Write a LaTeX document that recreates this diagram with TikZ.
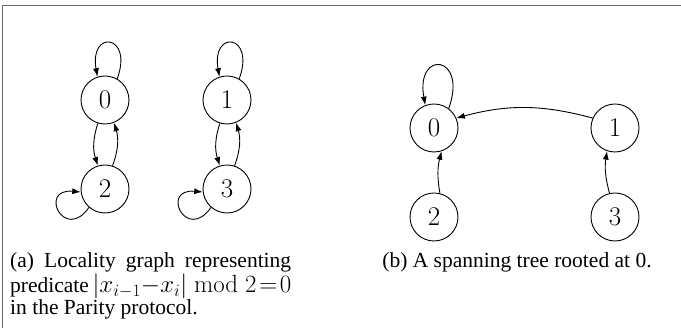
\documentclass[tikz,border=0pt]{standalone}
\usepackage[no-math]{fontspec}
\newfontfamily\capfont{Liberation Serif}
\usetikzlibrary{arrows.meta}
\definecolor{framecol}{RGB}{105,105,105}
\tikzset{
  vert/.style={circle, draw, line width=0.9pt, minimum size=48pt, inner sep=0pt,
    font=\fontsize{27}{30}\selectfont},
  arr/.style={line width=0.9pt, -{Latex[length=8.5pt,width=6pt]}},
  captext/.style={inner sep=0pt, font=\capfont\fontsize{21.5}{18.5}\selectfont}
}
\begin{document}
\begin{tikzpicture}[x=1pt,y=1pt]
\useasboundingbox (0,0) rectangle (681,328);
\draw[framecol, line width=1.6pt] (2.5,0) -- (2.5,322.5) -- (681,322.5);

% (a)
\node[vert] (a0) at (105,228) {0};
\node[vert] (a2) at (105,139) {2};
\node[vert] (a1) at (227,228) {1};
\node[vert] (a3) at (227,139) {3};

\draw[arr] (a0.60) .. controls +(70:48) and +(100:48) .. (a0.108);
\draw[arr] (a1.60) .. controls +(70:48) and +(100:48) .. (a1.108);
\draw[arr] (a2.229) .. controls +(235:43) and +(175:43) .. (a2.187);
\draw[arr] (a3.229) .. controls +(235:43) and +(175:43) .. (a3.187);

\draw[arr] (a0.-107) to[bend right=18] (a2.107);
\draw[arr] (a2.72) to[bend right=18] (a0.-68);
\draw[arr] (a1.-107) to[bend right=18] (a3.107);
\draw[arr] (a3.72) to[bend right=18] (a1.-68);

% (b)
\node[vert] (b0) at (434,200) {0};
\node[vert] (b1) at (615,200) {1};
\node[vert] (b2) at (434,111) {2};
\node[vert] (b3) at (615,111) {3};

\draw[arr] (b0.53) .. controls +(70:57) and +(100:57) .. (b0.111);
\draw[arr] (b1.156) to[bend right=15] (b0.24);
\draw[arr] (b2.76) to[bend left=12] (b0.-72);
\draw[arr] (b3.103) to[bend left=12] (b1.-109);

% captions
\node[captext, anchor=base west] (capa) at (10,60) {\parbox[t]{281pt}{%
\makebox[281pt][s]{(a) Locality graph representing}\\
\makebox[281pt][s]{predicate {\fontsize{23}{18.5}\selectfont\mbox{$|x_{i-1}{-}x_i| \bmod 2\!=\!0$}}}\\
in the Parity protocol.}};
\node[captext, anchor=base] (capb) at (517,60) {(b) A spanning tree rooted at 0.};
\end{tikzpicture}
\end{document}
